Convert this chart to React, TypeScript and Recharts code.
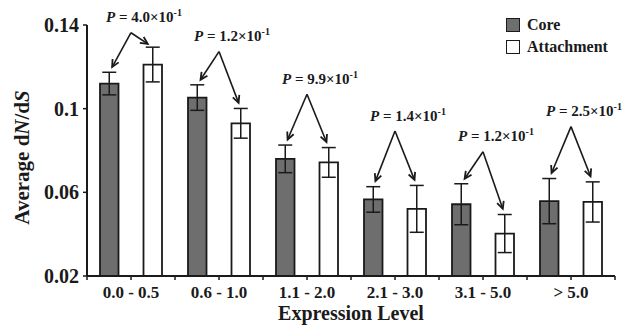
import { BarChart, Bar, XAxis, YAxis, ErrorBar, ReferenceLine, Legend } from 'recharts';

// expression level bins
const levels = ['0.0 - 0.5', '0.6 - 1.0', '1.1 - 2.0', '2.1 - 3.0', '3.1 - 5.0', '> 5.0'];

// average dN/dS with error bars
const coreMean = [0.112, 0.1053, 0.076, 0.0566, 0.0543, 0.0558];
const coreErr = [0.0054, 0.0061, 0.0066, 0.0061, 0.0098, 0.0108];
const attachMean = [0.1211, 0.093, 0.0743, 0.0521, 0.0403, 0.0554];
const attachErr = [0.0083, 0.0071, 0.0071, 0.0112, 0.0091, 0.0096];

// P value annotations (mantissa of x10^-1) and height of the arrow apex
const pValues = ['4.0', '1.2', '9.9', '1.4', '1.2', '2.5'];
const pApex = [0.1363, 0.1273, 0.1069, 0.0893, 0.0794, 0.0914];

const yTicks = [0.02, 0.06, 0.1, 0.14];

const W = 641;
const H = 328;
const MARGIN = { top: 25, right: 26, bottom: 0, left: 0 };
const Y_WIDTH = 87;
const BAR_SIZE = 18.5;
const BAR_GAP = 25;
const INK = '#1a1a1a';
const CORE_FILL = '#6e6e6e';
const FONT = '"Liberation Serif", "Times New Roman", serif';

const data = levels.map((level, i) => ({
    level,
    core: coreMean[i],
    coreErr: coreErr[i],
    attach: attachMean[i],
    attachErr: attachErr[i],
}));

// width of one category and how far each bar centre sits from it (px)
const band = (W - MARGIN.left - MARGIN.right - Y_WIDTH) / levels.length;
const barShift = (BAR_SIZE + BAR_GAP) / 2;

// shape for a ReferenceLine segment running from the apex down to the error bar top
// at the category centre; the end is shifted sideways onto the bar
function makeArrow(side: number, pText?: string) {
    return (props: any) => {
        const { x1, y1, y2 } = props;
        const x2 = props.x2 + side * barShift;
        const dx = x2 - x1;
        const dy = y2 - y1;
        const len = Math.hypot(dx, dy) || 1;
        const ux = dx / len;
        const uy = dy / len;
        const ex = x2 - ux * 6;
        const ey = y2 - uy * 6;
        const a = Math.atan2(uy, ux);
        const head = 8;
        const hx1 = ex - head * Math.cos(a - 0.45);
        const hy1 = ey - head * Math.sin(a - 0.45);
        const hx2 = ex - head * Math.cos(a + 0.45);
        const hy2 = ey - head * Math.sin(a + 0.45);
        return (
            <g>
                <line x1={x1} y1={y1} x2={ex} y2={ey} stroke={INK} strokeWidth={1.6} />
                <polyline points={`${hx1},${hy1} ${ex},${ey} ${hx2},${hy2}`} fill="none" stroke={INK} strokeWidth={1.8} />
                {pText && (
                    <text x={x1 + 13} y={y1 - 10.5} textAnchor="middle" fontFamily={FONT} fontWeight="bold" fontSize={15} fill={INK}>
                        <tspan fontStyle="italic">P</tspan>
                        <tspan>{` = ${pText}×10`}</tspan>
                        <tspan dy={-6} fontSize={10}>-1</tspan>
                    </text>
                )}
            </g>
        );
    };
}

// category label plus tick marks at the centre and at the band edges
const LevelTick = (props: any) => {
    const { x, y, payload, index } = props;
    const top = y - 10;
    return (
        <g>
            <line x1={x} y1={top} x2={x} y2={top + 4} stroke={INK} strokeWidth={1.5} />
            <line x1={x - band / 2} y1={top} x2={x - band / 2} y2={top + 4} stroke={INK} strokeWidth={1.5} />
            {index === levels.length - 1 && (
                <line x1={x + band / 2} y1={top} x2={x + band / 2} y2={top + 4} stroke={INK} strokeWidth={1.5} />
            )}
            <text x={x} y={y} dy="0.71em" textAnchor="middle" fontFamily={FONT} fontWeight="bold" fontSize={17} fill={INK}>
                {payload.value}
            </text>
        </g>
    );
};

const YLabel = (props: any) => {
    const { viewBox } = props;
    const x = viewBox.x + 29;
    const y = viewBox.y + viewBox.height / 2 + 7;
    return (
        <text x={x} y={y} transform={`rotate(-90, ${x}, ${y})`} textAnchor="middle" fontFamily={FONT} fontWeight="bold" fontSize={21} fill={INK}>
            Average d<tspan fontStyle="italic">N</tspan>/d<tspan fontStyle="italic">S</tspan>
        </text>
    );
};

const LegendBox = () => (
    <div style={{ fontFamily: FONT, fontWeight: 'bold', fontSize: 16, color: INK, lineHeight: '20px' }}>
        {[
            { name: 'Core', fill: CORE_FILL },
            { name: 'Attachment', fill: '#ffffff' },
        ].map((item) => (
            <div key={item.name} style={{ display: 'flex', alignItems: 'center', height: 22 }}>
                <span style={{ width: 12, height: 12, background: item.fill, border: `1.5px solid ${INK}`, marginRight: 7, display: 'inline-block' }} />
                {item.name}
            </div>
        ))}
    </div>
);

export default function App() {
    const tickFont = { fontFamily: FONT, fontWeight: 'bold', fill: INK };
    return (
        <div style={{ position: 'absolute', left: 0, top: 0, width: W, height: H, background: '#fff' }}>
            <BarChart width={W} height={H} data={data} margin={MARGIN} barSize={BAR_SIZE} barGap={BAR_GAP}>
                <XAxis
                    dataKey="level"
                    height={52}
                    tick={<LevelTick />}
                    tickLine={false}
                    tickSize={4}
                    tickMargin={6}
                    interval={0}
                    axisLine={{ stroke: INK, strokeWidth: 2 }}
                    label={{ value: 'Expression Level', position: 'insideBottom', offset: 8, style: { ...tickFont, fontSize: 20 } }}
                />
                <YAxis
                    width={Y_WIDTH}
                    domain={[0.02, 0.14]}
                    ticks={yTicks}
                    allowDataOverflow
                    tick={{ ...tickFont, fontSize: 20 }}
                    tickSize={4}
                    tickMargin={4}
                    axisLine={{ stroke: INK, strokeWidth: 2 }}
                    tickLine={{ stroke: INK, strokeWidth: 1.5 }}
                    label={{ content: <YLabel /> }}
                />
                <Legend layout="horizontal" verticalAlign="middle" align="center" content={<LegendBox />} wrapperStyle={{ left: 506, top: 14, width: 'auto' }} />
                <Bar dataKey="core" name="Core" fill={CORE_FILL} stroke={INK} strokeWidth={1.8} isAnimationActive={false}>
                    <ErrorBar dataKey="coreErr" width={7} stroke={INK} strokeWidth={1.5} />
                </Bar>
                <Bar dataKey="attach" name="Attachment" fill="#ffffff" stroke={INK} strokeWidth={1.8} isAnimationActive={false}>
                    <ErrorBar dataKey="attachErr" width={7} stroke={INK} strokeWidth={1.5} />
                </Bar>
                {levels.map((lvl, i) => (
                    <ReferenceLine
                        key={`c-${i}`}
                        segment={[
                            { x: lvl, y: pApex[i] },
                            { x: lvl, y: coreMean[i] + coreErr[i] },
                        ]}
                        shape={makeArrow(-1, pValues[i])}
                    />
                ))}
                {levels.map((lvl, i) => (
                    <ReferenceLine
                        key={`a-${i}`}
                        segment={[
                            { x: lvl, y: pApex[i] },
                            { x: lvl, y: attachMean[i] + attachErr[i] },
                        ]}
                        shape={makeArrow(1)}
                    />
                ))}
            </BarChart>
        </div>
    );
}
